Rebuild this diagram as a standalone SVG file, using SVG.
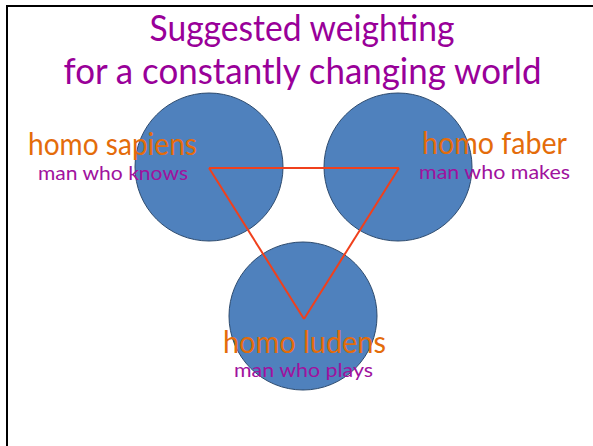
<svg xmlns="http://www.w3.org/2000/svg" width="593" height="446" viewBox="0 0 593 446">
<style>
.circ{fill:#4f81bd;stroke:#2c4a6e;stroke-width:1}
.title{font-family:"Lato","Open Sans",sans-serif;font-size:36px;fill:#990099;text-anchor:middle}
.name{font-family:"Lato","Open Sans",sans-serif;font-size:30px;fill:#e46c0a;text-anchor:middle}
.sub{font-family:"Lato","Open Sans",sans-serif;font-size:20px;fill:#a0129e;text-anchor:middle}
.link{stroke:#f0401c;stroke-width:2;fill:none}
.frame{stroke:#000;stroke-width:2;fill:none}
</style>
<rect width="593" height="446" fill="#fff"/>
<path class="frame" d="M7,446 V6 H593"/>
<g id="title">
<text class="title" x="302" y="41" textLength="305" lengthAdjust="spacingAndGlyphs">Suggested weighting</text>
<text class="title" x="302.5" y="84" textLength="478" lengthAdjust="spacingAndGlyphs">for a constantly changing world</text>
</g>
<g id="homo-sapiens-circle"><circle class="circ" cx="209" cy="167" r="74"/></g>
<g id="homo-faber-circle"><circle class="circ" cx="398" cy="167" r="74"/></g>
<g id="homo-ludens-circle"><circle class="circ" cx="303" cy="316" r="74"/></g>
<g id="connectors">
<line class="link" x1="209" y1="168" x2="399" y2="168"/>
<line class="link" x1="399" y1="168" x2="304" y2="319"/>
<line class="link" x1="304" y1="319" x2="209" y2="168"/>
</g>
<g id="homo-sapiens">
<text class="name" x="112.5" y="155" textLength="169" lengthAdjust="spacingAndGlyphs">homo sapiens</text>
<text class="sub" x="113" y="180" textLength="150" lengthAdjust="spacingAndGlyphs">man who knows</text>
</g>
<g id="homo-faber">
<text class="name" x="494.5" y="154" textLength="145" lengthAdjust="spacingAndGlyphs">homo faber</text>
<text class="sub" x="494.5" y="179" textLength="151" lengthAdjust="spacingAndGlyphs">man who makes</text>
</g>
<g id="homo-ludens">
<text class="name" x="304.5" y="353" textLength="163" lengthAdjust="spacingAndGlyphs">homo ludens</text>
<text class="sub" x="303.5" y="377" textLength="139" lengthAdjust="spacingAndGlyphs">man who plays</text>
</g>
</svg>
